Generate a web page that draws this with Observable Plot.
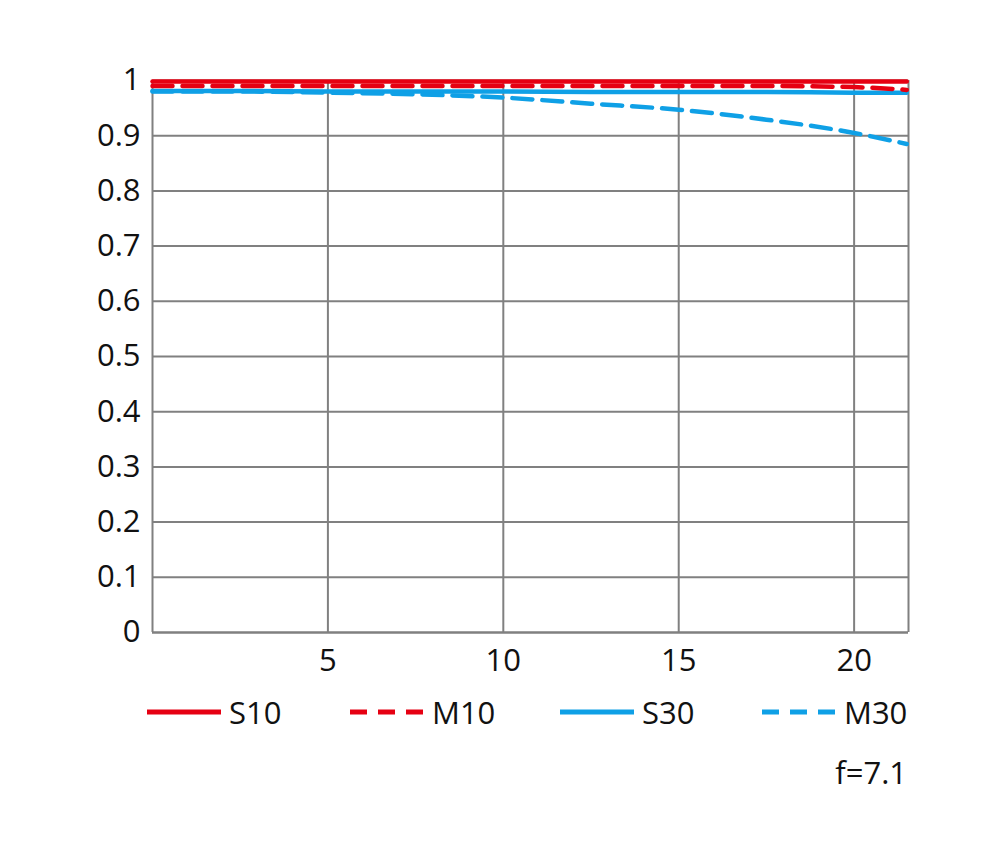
<!DOCTYPE html>
<html><head><meta charset="utf-8">
<script src="https://cdn.jsdelivr.net/npm/d3@7"></script>
<script src="https://cdn.jsdelivr.net/npm/@observablehq/plot@0.6"></script>
<style>
body{margin:0;background:#fff;font-family:"Open Sans",sans-serif;}
#wrap{position:relative;width:1000px;height:846px;}
.leg{position:absolute;top:690px;height:44px;display:flex;align-items:center;font-size:31px;font-weight:500;color:#111;}
.leg svg{margin-right:8px;}
#note{position:absolute;top:751px;right:93px;font-size:31px;font-weight:500;color:#111;}
</style></head>
<body><div id="wrap"></div>
<script>
const xs   = [0, 2.5, 5, 7.5, 10, 12.5, 15, 17.5, 20, 21.5];
const S10  = [0.998,0.998,0.998,0.998,0.998,0.998,0.998,0.998,0.998,0.998];
const M10  = [0.990,0.990,0.990,0.990,0.990,0.990,0.990,0.990,0.988,0.983];
const S30  = [0.981,0.981,0.980,0.980,0.980,0.979,0.979,0.979,0.978,0.978];
const M30  = [0.980,0.980,0.978,0.975,0.969,0.958,0.947,0.929,0.905,0.885];
const series = [
  {name:"S10", values:S10, color:"#e60012", dash:null},
  {name:"M10", values:M10, color:"#e60012", dash:"20,10"},
  {name:"S30", values:S30, color:"#0fa0e6", dash:null},
  {name:"M30", values:M30, color:"#0fa0e6", dash:"20,10"}
];
const xTicks = [5,10,15,20];
const yTicks = [0,0.1,0.2,0.3,0.4,0.5,0.6,0.7,0.8,0.9,1];
const note = "f=7.1";

const drawOrder = [2,3,1,0];
const lineMarks = drawOrder.map(i => {
  const s = series[i];
  return Plot.line(xs.map((x,j)=>({x, y:s.values[j]})), {x:"x", y:"y", stroke:s.color, strokeWidth:4.5, strokeDasharray:s.dash, curve:"monotone-x"});
});

const chart = Plot.plot({
  width:1000, height:700,
  marginLeft:152, marginRight:92, marginTop:80, marginBottom:68,
  style:{fontFamily:"Open Sans, sans-serif", fontSize:"31px", fontWeight:500, color:"#111", background:"#fff"},
  x:{domain:[0,21.55], ticks:xTicks, tickSize:0, tickPadding:16, label:null},
  y:{domain:[0,1], ticks:yTicks, tickSize:0, tickPadding:12, label:null, tickFormat:d=>d3.format("~g")(d)},
  marks:[
    Plot.gridX(xTicks, {stroke:"#808080", strokeOpacity:1, strokeWidth:2}),
    Plot.gridY(yTicks, {stroke:"#808080", strokeOpacity:1, strokeWidth:2}),
    Plot.ruleX([0, 21.55], {stroke:"#808080", strokeWidth:2}),
    Plot.ruleY([0], {stroke:"#808080", strokeWidth:2}),
    ...lineMarks
  ]
});
const wrap = document.getElementById("wrap");
wrap.appendChild(chart);

const legLeft = [147, 350, 560, 762];
series.forEach((s,i)=>{
  const d = document.createElement("div");
  d.className="leg"; d.style.left = legLeft[i]+"px";
  d.innerHTML = `<svg width="74" height="10"><line x1="0" x2="74" y1="5" y2="5" stroke="${s.color}" stroke-width="5" ${s.dash?'stroke-dasharray="17,11"':''}/></svg><span>${s.name}</span>`;
  wrap.appendChild(d);
});
const n = document.createElement("div"); n.id="note"; n.textContent=note; wrap.appendChild(n);
</script></body></html>
